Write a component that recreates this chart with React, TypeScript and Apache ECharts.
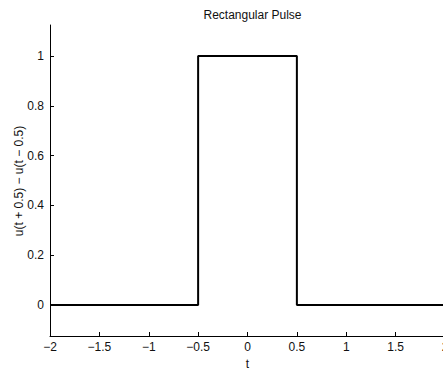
import React, { useEffect, useRef } from "react";
import * as echarts from "echarts";

const titleText = "Rectangular Pulse";
const xName = "t";
const yName = "u(t + 0.5) \u2212 u(t \u2212 0.5)";
const tValues = [-2, -0.5, -0.5, 0.5, 0.5, 2];
const pulseValues = [0, 0, 1, 1, 0, 0];
const yTicks = [0, 0.2, 0.4, 0.6, 0.8, 1];
const xTicks = [-2, -1.5, -1, -0.5, 0, 0.5, 1, 1.5, 2];

const fmt = (v: number) => String(v).replace("-", "\u2212");

export default function App() {
  const ref = useRef<HTMLDivElement>(null);
  useEffect(() => {
    if (!ref.current) return;
    const chart = echarts.init(ref.current, null, { renderer: "svg" });
    const font = "'Liberation Sans', Arial, Helvetica, sans-serif";
    const textColor = "#111111";
    chart.setOption({
      animation: false,
      backgroundColor: "#ffffff",
      textStyle: { fontFamily: font },
      title: {
        text: titleText,
        left: 247.5,
        top: 4,
        textAlign: "center",
        textStyle: { fontSize: 12, fontWeight: "normal", color: textColor, fontFamily: font },
      },
      grid: { left: 50, right: -2, top: 25, bottom: 32, containLabel: false, outerBoundsMode: "none" },
      xAxis: {
        type: "value",
        min: -2,
        max: 2,
        name: xName,
        nameLocation: "middle",
        nameGap: 16,
        nameTextStyle: { fontSize: 12, lineHeight: 13, color: textColor, fontFamily: font },
        axisLine: { show: true, onZero: false, lineStyle: { color: "#000", width: 1 } },
        axisTick: { show: true, inside: true, length: 4, customValues: xTicks, lineStyle: { color: "#000" } },
        axisLabel: {
          show: true,
          margin: 5,
          fontSize: 12,
          color: textColor,
          fontFamily: font,
          customValues: xTicks,
          formatter: (v: number) => fmt(v),
          showMaxLabel: true,
          showMinLabel: true,
        },
        splitLine: { show: false },
      },
      yAxis: {
        type: "value",
        min: -0.125,
        max: 1.125,
        axisLine: { show: true, onZero: false, lineStyle: { color: "#000", width: 1 } },
        axisTick: { show: true, inside: true, length: 4, customValues: yTicks, lineStyle: { color: "#000" } },
        axisLabel: {
          show: true,
          margin: 6,
          fontSize: 12,
          color: textColor,
          fontFamily: font,
          customValues: yTicks,
          formatter: (v: number) => fmt(v),
        },
        splitLine: { show: false },
      },
      graphic: [
        {
          type: "text",
          x: 19,
          y: 181,
          rotation: Math.PI / 2,
          style: {
            text: yName,
            fontSize: 12,
            fill: textColor,
            fontFamily: font,
            align: "center",
            verticalAlign: "middle",
          },
        },
      ],
      series: [
        {
          type: "line",
          data: tValues.map((t, i) => [t, pulseValues[i]]),
          showSymbol: false,
          symbol: "none",
          lineStyle: { color: "#000", width: 2 },
          clip: false,
        },
      ],
    });
    return () => chart.dispose();
  }, []);
  return (
    <div
      ref={ref}
      style={{ position: "fixed", left: 0, top: 0, width: 443, height: 368 }}
    />
  );
}
